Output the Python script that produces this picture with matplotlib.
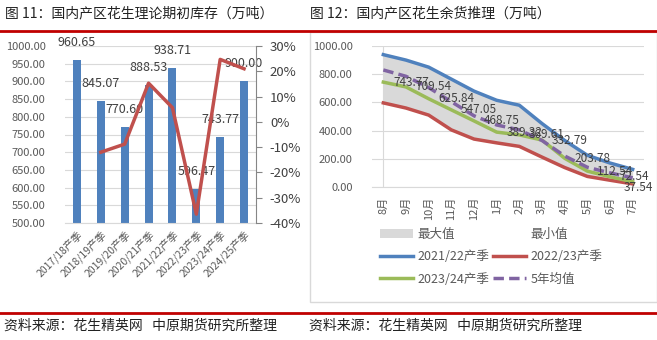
import matplotlib
matplotlib.use('Agg')
import matplotlib.pyplot as plt
from matplotlib.patches import Patch, Rectangle
from matplotlib.lines import Line2D
from matplotlib.ticker import FuncFormatter

plt.rcParams['font.family'] = ['Noto Sans CJK SC', 'DejaVu Sans']

# 图11 数据
seasons = ['2017/18产季', '2018/19产季', '2019/20产季', '2020/21产季',
           '2021/22产季', '2022/23产季', '2023/24产季', '2024/25产季']
stock = [960.65, 845.07, 770.60, 888.53, 938.71, 596.47, 743.77, 900.00]
yoy = [None, -12.0, -8.8, 15.3, 5.6, -36.5, 24.7, 21.0]  # 同比 %

# 图12 数据
months = ['8月', '9月', '10月', '11月', '12月', '1月', '2月', '3月', '4月', '5月', '6月', '7月']
s2122 = [938.71, 900, 850, 765, 680, 615, 580, 450, 330, 225, 170, 125]
s2223 = [596.47, 560, 510, 405, 340, 313, 288, 212, 138, 75, 48, 22]
s2324 = [743.77, 709.54, 625.84, 547.05, 468.75, 389.32, 369.61, 332.79, 203.78, 112.54, 72.54, 37.54]
avg5 = [830, 785, 705, 605, 505, 440, 405, 330, 220, 140, 100, 65]
max_vals = [945, 905, 855, 770, 685, 620, 585, 455, 335, 230, 175, 130]
min_vals = [596.47, 560, 510, 405, 340, 313, 288, 212, 138, 75, 48, 22]

W, H = 657, 340
fig = plt.figure(figsize=(W / 100, H / 100), dpi=100)

def fx(px):
    return px / W

def fy(py):
    return 1 - py / H

grey_txt = '#595959'
dark_txt = '#404040'

# 标题与红线
fig.text(fx(5), fy(13), '图 11：国内产区花生理论期初库存（万吨）', fontsize=10, va='center', color='#222222')
fig.text(fx(310), fy(13), '图 12：国内产区花生余货推理（万吨）', fontsize=10, va='center', color='#222222')
fig.add_artist(Line2D([0, 1], [fy(31), fy(31)], color='#C00000', lw=2, transform=fig.transFigure))
fig.add_artist(Line2D([0, 1], [fy(313), fy(313)], color='#C00000', lw=2, transform=fig.transFigure))
fig.text(fx(4), fy(326), '资料来源：花生精英网   中原期货研究所整理', fontsize=10, va='center', color='#222222')
fig.text(fx(309), fy(326), '资料来源：花生精英网   中原期货研究所整理', fontsize=10, va='center', color='#222222')

# 右图外框
fig.add_artist(Rectangle((fx(310), fy(302)), fx(657 - 310), (302 - 32) / H, transform=fig.transFigure,
                         fill=False, edgecolor='#D9D9D9', lw=1))

# ---------- 图11 ----------
ax1 = fig.add_axes([fx(65), fy(223), fx(256 - 65), (223 - 46) / H])
x = list(range(len(seasons)))
ax1.bar(x, stock, width=0.34, color='#4F81BD', zorder=2)
ax1.set_ylim(500, 1000)
ax1.set_xlim(-0.5, len(seasons) - 0.5)
ax1.set_yticks([500 + 50 * i for i in range(11)])
ax1.yaxis.set_major_formatter(FuncFormatter(lambda v, p: f'{v:.2f}'))
ax1.grid(axis='y', color='#D9D9D9', lw=0.8, zorder=0)
for s in ['top', 'right', 'left']:
    ax1.spines[s].set_visible(False)
ax1.spines['bottom'].set_color('#D9D9D9')
ax1.tick_params(axis='y', length=0, labelsize=8, labelcolor=grey_txt, pad=14)
ax1.set_xticks(x)
ax1.set_xticklabels(seasons, rotation=45, ha='right', rotation_mode='anchor',
                    fontsize=7.5, color=grey_txt)
ax1.tick_params(axis='x', length=0, pad=4)
for xi, v in zip(x, stock):
    ax1.annotate(f'{v:.2f}', (xi, v), xytext=(0, 8), textcoords='offset points',
                 ha='center', va='bottom', fontsize=9, color=dark_txt, zorder=5)

ax1b = ax1.twinx()
ax1b.set_ylim(-40, 30)
ax1b.set_yticks([-40, -30, -20, -10, 0, 10, 20, 30])
ax1b.yaxis.set_major_formatter(FuncFormatter(lambda v, p: f'{v:.0f}%'))
lx = [xi for xi, v in zip(x, yoy) if v is not None]
ly = [v for v in yoy if v is not None]
ax1b.plot(lx, ly, color='#C0504D', lw=2.5, zorder=3)
for s in ['top', 'left', 'bottom']:
    ax1b.spines[s].set_visible(False)
ax1b.spines['right'].set_color('#868686')
ax1b.tick_params(axis='y', direction='out', length=4, color='#868686', labelsize=9.5,
                 labelcolor=dark_txt, pad=6)

# ---------- 图12 ----------
ax2 = fig.add_axes([fx(372), fy(187), fx(644 - 372), (187 - 46) / H])
mx = list(range(len(months)))
ax2.fill_between(mx, min_vals, max_vals, color='#D9D9D9', lw=0, zorder=1)
ax2.plot(mx, s2122, color='#4F81BD', lw=2.5, zorder=3)
ax2.plot(mx, s2223, color='#C0504D', lw=2.5, zorder=3)
ax2.plot(mx, s2324, color='#9BBB59', lw=2.5, zorder=3)
ax2.plot(mx, avg5, color='#8064A2', lw=2.5, ls=(0, (3, 1.5)), zorder=4)
for i, (xi, v) in enumerate(zip(mx, s2324)):
    last = i == len(mx) - 1
    ax2.annotate(f'{v:.2f}', (xi, v), xytext=(4, -4) if last else (7, 0),
                 textcoords='offset points', ha='center' if last else 'left', va='center',
                 fontsize=8.5, color=dark_txt, zorder=6)
ax2.axvline(0, color='#D9D9D9', lw=0.8, zorder=0)
ax2.set_xlim(-0.5, len(months) - 0.5)
ax2.set_ylim(0, 1000)
ax2.set_yticks([0, 200, 400, 600, 800, 1000])
ax2.yaxis.set_major_formatter(FuncFormatter(lambda v, p: f'{v:.2f}'))
ax2.grid(axis='y', color='#D9D9D9', lw=0.8, zorder=0)
for s in ['top', 'right', 'left']:
    ax2.spines[s].set_visible(False)
ax2.spines['bottom'].set_color('#D9D9D9')
ax2.tick_params(axis='y', length=0, labelsize=8, labelcolor=grey_txt, pad=14)
ax2.set_xticks(mx)
ax2.set_xticklabels(months, rotation=90, fontsize=8, color=grey_txt)
ax2.tick_params(axis='x', length=0, pad=7)

handles = [Patch(facecolor='#D9D9D9', edgecolor='none'),
           Line2D([], [], color='#4F81BD', lw=2.5),
           Line2D([], [], color='#9BBB59', lw=2.5),
           Patch(facecolor='white', edgecolor='none'),
           Line2D([], [], color='#C0504D', lw=2.5),
           Line2D([], [], color='#8064A2', lw=2.5, ls=(0, (3, 1.5)))]
labels = ['最大值', '2021/22产季', '2023/24产季', '最小值', '2022/23产季', '5年均值']
fig.legend(handles, labels, loc='upper left', bbox_to_anchor=(fx(380), fy(228)), ncol=2,
           frameon=False, fontsize=9, handlelength=2.6, handletextpad=0.4,
           columnspacing=0.3, labelspacing=0.75, borderpad=0, borderaxespad=0,
           labelcolor=grey_txt)

fig.savefig('out.png', dpi=100)
